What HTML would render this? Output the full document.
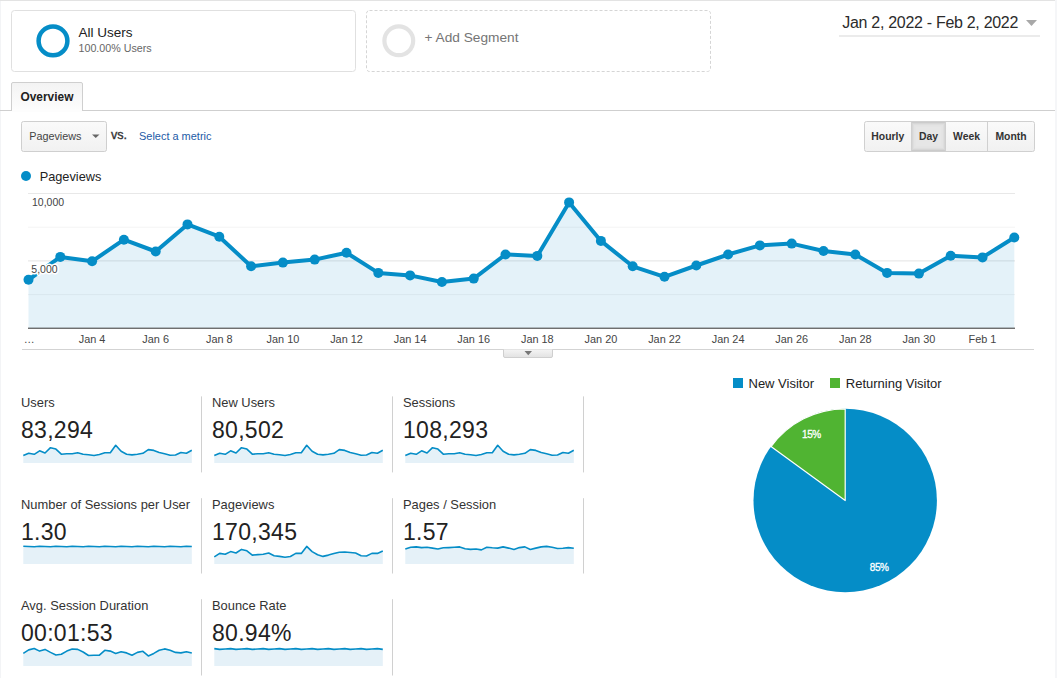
<!DOCTYPE html><html><head><meta charset="utf-8"><style>html,body{margin:0;padding:0;background:#fff;overflow:hidden}svg{display:block}text{font-family:"Liberation Sans", sans-serif}</style></head><body>
<svg width="1057" height="678" viewBox="0 0 1057 678">
<defs><linearGradient id="tabg" x1="0" y1="0" x2="0" y2="1"><stop offset="0" stop-color="#f3f3f3"/><stop offset="1" stop-color="#fdfdfd"/></linearGradient><linearGradient id="btng" x1="0" y1="0" x2="0" y2="1"><stop offset="0" stop-color="#fafafa"/><stop offset="1" stop-color="#f1f1f1"/></linearGradient><linearGradient id="handg" x1="0" y1="0" x2="0" y2="1"><stop offset="0" stop-color="#f4f4f4"/><stop offset="1" stop-color="#e2e2e2"/></linearGradient></defs>
<rect x="0" y="0" width="1057" height="678" fill="#fff"/>
<rect x="0" y="0" width="1055" height="1" fill="#e3e3e3"/>
<rect x="0" y="1" width="1" height="678" fill="#f3f4f6"/>
<rect x="1055" y="0" width="2" height="678" fill="#f5f6f8"/>
<rect x="11.5" y="10.5" width="344" height="61" rx="3" fill="#fff" stroke="#e0e0e0" stroke-width="1"/>
<circle cx="53" cy="40.9" r="14.4" fill="none" stroke="#058dc7" stroke-width="4.5"/>
<text x="78.5" y="37" font-size="13.5" fill="#222">All Users</text>
<text x="78.5" y="52" font-size="10.7" fill="#666">100.00% Users</text>
<rect x="366.5" y="10.5" width="344" height="61" rx="3" fill="#fff" stroke="#d5d5d5" stroke-width="1" stroke-dasharray="3 2"/>
<circle cx="398.8" cy="40.8" r="14.4" fill="none" stroke="#e3e3e3" stroke-width="4.2"/>
<text x="424.5" y="41.7" font-size="13.7" fill="#757575">+ Add Segment</text>
<text x="842.3" y="27.6" font-size="16" letter-spacing="-0.3" fill="#2b2b2b">Jan 2, 2022 - Feb 2, 2022</text>
<path d="M1026 20 L1037 20 L1031.5 26 Z" fill="#a8a8a8"/>
<rect x="839" y="35" width="201" height="2" fill="#ebebeb"/>
<rect x="0" y="110" width="1055" height="1" fill="#cfcfcf"/>
<path d="M11.5 111 L11.5 84 Q11.5 82.5 13 82.5 L81 82.5 Q82.5 82.5 82.5 84 L82.5 111" fill="url(#tabg)" stroke="#cfcfcf" stroke-width="1"/>
<rect x="12" y="109" width="70" height="3" fill="#fdfdfd"/>
<text x="20.5" y="100.5" font-size="11.9" font-weight="bold" fill="#222">Overview</text>
<rect x="21.5" y="121.5" width="85" height="30" rx="2" fill="url(#btng)" stroke="#cfcfcf"/>
<text x="29.2" y="140" font-size="10.8" fill="#444">Pageviews</text>
<path d="M92 134.5 L99.5 134.5 L95.75 138 Z" fill="#666"/>
<text x="111" y="139" font-size="12.6" fill="#333" stroke="#333" stroke-width="0.35">vs.</text>
<text x="139" y="140" font-size="10.96" fill="#1d5aa6">Select a metric</text>
<rect x="864.5" y="121.5" width="170" height="30" rx="2" fill="url(#btng)" stroke="#d0d0d0"/>
<rect x="911" y="122" width="35" height="29" fill="#cbcbcb"/>
<rect x="912" y="123" width="33" height="27" fill="#d6d6d6"/>
<rect x="913" y="124" width="31" height="25" fill="#dedede"/>
<rect x="914" y="125" width="29" height="23" fill="#e3e3e3"/>
<rect x="915.5" y="126.5" width="26" height="20" fill="#e6e6e6"/>
<rect x="911.0" y="122" width="1" height="29" fill="#d0d0d0"/>
<rect x="945.0" y="122" width="1" height="29" fill="#d0d0d0"/>
<rect x="987.0" y="122" width="1" height="29" fill="#d0d0d0"/>
<text x="887.8" y="140" font-size="10.4" font-weight="bold" fill="#333" text-anchor="middle">Hourly</text>
<text x="928.5" y="140" font-size="10.4" font-weight="bold" fill="#333" text-anchor="middle">Day</text>
<text x="966.5" y="140" font-size="10.4" font-weight="bold" fill="#333" text-anchor="middle">Week</text>
<text x="1011" y="140" font-size="10.4" font-weight="bold" fill="#333" text-anchor="middle">Month</text>
<circle cx="26" cy="176" r="5" fill="#058dc7"/>
<text x="39.7" y="181" font-size="12.76" fill="#222">Pageviews</text>
<rect x="28" y="193.0" width="987" height="1" fill="#e8e8e8"/>
<rect x="28" y="226.7" width="987" height="1" fill="#f4f4f4"/>
<rect x="28" y="260.4" width="987" height="1" fill="#e3e3e3"/>
<rect x="28" y="294.1" width="987" height="1" fill="#f3f3f3"/>
<polygon points="28.5,328 28.5,279.8 60.3,256.9 92.1,261.3 123.9,239.7 155.7,251.5 187.5,224.4 219.3,236.7 251.1,266.3 282.9,262.6 314.7,259.6 346.5,252.7 378.3,272.9 410.1,275.4 441.9,282.0 473.7,278.6 505.5,254.5 537.3,255.9 569.1,202.4 600.9,240.9 632.7,266.3 664.5,276.8 696.3,265.5 728.1,254.5 759.9,245.4 791.7,243.6 823.5,251.0 855.3,254.5 887.1,272.9 918.9,273.6 950.7,255.7 982.5,257.4 1014.3,237.5 1014.3,328" fill="#058dc7" fill-opacity="0.11"/>
<polyline points="28.5,279.8 60.3,256.9 92.1,261.3 123.9,239.7 155.7,251.5 187.5,224.4 219.3,236.7 251.1,266.3 282.9,262.6 314.7,259.6 346.5,252.7 378.3,272.9 410.1,275.4 441.9,282.0 473.7,278.6 505.5,254.5 537.3,255.9 569.1,202.4 600.9,240.9 632.7,266.3 664.5,276.8 696.3,265.5 728.1,254.5 759.9,245.4 791.7,243.6 823.5,251.0 855.3,254.5 887.1,272.9 918.9,273.6 950.7,255.7 982.5,257.4 1014.3,237.5" fill="none" stroke="#058dc7" stroke-width="4" stroke-linejoin="round"/>
<circle cx="28.5" cy="279.8" r="5" fill="#058dc7"/>
<circle cx="60.3" cy="256.9" r="5" fill="#058dc7"/>
<circle cx="92.1" cy="261.3" r="5" fill="#058dc7"/>
<circle cx="123.9" cy="239.7" r="5" fill="#058dc7"/>
<circle cx="155.7" cy="251.5" r="5" fill="#058dc7"/>
<circle cx="187.5" cy="224.4" r="5" fill="#058dc7"/>
<circle cx="219.3" cy="236.7" r="5" fill="#058dc7"/>
<circle cx="251.1" cy="266.3" r="5" fill="#058dc7"/>
<circle cx="282.9" cy="262.6" r="5" fill="#058dc7"/>
<circle cx="314.7" cy="259.6" r="5" fill="#058dc7"/>
<circle cx="346.5" cy="252.7" r="5" fill="#058dc7"/>
<circle cx="378.3" cy="272.9" r="5" fill="#058dc7"/>
<circle cx="410.1" cy="275.4" r="5" fill="#058dc7"/>
<circle cx="441.9" cy="282.0" r="5" fill="#058dc7"/>
<circle cx="473.7" cy="278.6" r="5" fill="#058dc7"/>
<circle cx="505.5" cy="254.5" r="5" fill="#058dc7"/>
<circle cx="537.3" cy="255.9" r="5" fill="#058dc7"/>
<circle cx="569.1" cy="202.4" r="5" fill="#058dc7"/>
<circle cx="600.9" cy="240.9" r="5" fill="#058dc7"/>
<circle cx="632.7" cy="266.3" r="5" fill="#058dc7"/>
<circle cx="664.5" cy="276.8" r="5" fill="#058dc7"/>
<circle cx="696.3" cy="265.5" r="5" fill="#058dc7"/>
<circle cx="728.1" cy="254.5" r="5" fill="#058dc7"/>
<circle cx="759.9" cy="245.4" r="5" fill="#058dc7"/>
<circle cx="791.7" cy="243.6" r="5" fill="#058dc7"/>
<circle cx="823.5" cy="251.0" r="5" fill="#058dc7"/>
<circle cx="855.3" cy="254.5" r="5" fill="#058dc7"/>
<circle cx="887.1" cy="272.9" r="5" fill="#058dc7"/>
<circle cx="918.9" cy="273.6" r="5" fill="#058dc7"/>
<circle cx="950.7" cy="255.7" r="5" fill="#058dc7"/>
<circle cx="982.5" cy="257.4" r="5" fill="#058dc7"/>
<circle cx="1014.3" cy="237.5" r="5" fill="#058dc7"/>
<rect x="28" y="327.7" width="987" height="1" fill="#333"/>
<text x="32" y="206" font-size="10.5" fill="#444">10,000</text>
<text x="31.3" y="272.7" font-size="10.5" fill="#444" stroke="#fff" stroke-width="3" stroke-linejoin="round" paint-order="stroke">5,000</text>
<text x="23.7" y="343" font-size="10.9" fill="#444">…</text>
<text x="92.1" y="342.8" font-size="10.9" fill="#444" text-anchor="middle">Jan 4</text>
<text x="155.7" y="342.8" font-size="10.9" fill="#444" text-anchor="middle">Jan 6</text>
<text x="219.3" y="342.8" font-size="10.9" fill="#444" text-anchor="middle">Jan 8</text>
<text x="282.9" y="342.8" font-size="10.9" fill="#444" text-anchor="middle">Jan 10</text>
<text x="346.5" y="342.8" font-size="10.9" fill="#444" text-anchor="middle">Jan 12</text>
<text x="410.1" y="342.8" font-size="10.9" fill="#444" text-anchor="middle">Jan 14</text>
<text x="473.7" y="342.8" font-size="10.9" fill="#444" text-anchor="middle">Jan 16</text>
<text x="537.3" y="342.8" font-size="10.9" fill="#444" text-anchor="middle">Jan 18</text>
<text x="600.9" y="342.8" font-size="10.9" fill="#444" text-anchor="middle">Jan 20</text>
<text x="664.5" y="342.8" font-size="10.9" fill="#444" text-anchor="middle">Jan 22</text>
<text x="728.1" y="342.8" font-size="10.9" fill="#444" text-anchor="middle">Jan 24</text>
<text x="791.7" y="342.8" font-size="10.9" fill="#444" text-anchor="middle">Jan 26</text>
<text x="855.3" y="342.8" font-size="10.9" fill="#444" text-anchor="middle">Jan 28</text>
<text x="918.9" y="342.8" font-size="10.9" fill="#444" text-anchor="middle">Jan 30</text>
<text x="982.5" y="342.8" font-size="10.9" fill="#444" text-anchor="middle">Feb 1</text>
<rect x="22" y="349" width="1012" height="1" fill="#d3d3d3"/>
<path d="M503.5 349.5 L503.5 356 Q503.5 357.5 505 357.5 L551 357.5 Q552.5 357.5 552.5 356 L552.5 349.5" fill="url(#handg)" stroke="#cfcfcf"/>
<path d="M524.5 351 L532 351 L528.25 355.3 Z" fill="#777"/>
<text x="21.0" y="406.8" font-size="12.9" fill="#333">Users</text>
<text x="21.0" y="437.6" font-size="23" letter-spacing="0.3" fill="#222">83,294</text>
<polygon points="23.3,463.0 23.3,455.5 28.7,453.3 34.2,454.3 39.6,450.8 45.0,453.0 50.5,447.7 55.9,449.1 61.3,454.2 66.8,453.7 72.2,453.7 77.7,452.8 83.1,454.3 88.5,454.7 94.0,455.5 99.4,454.5 104.8,452.8 110.3,452.8 115.7,445.3 121.1,451.3 126.6,454.2 132.0,454.9 137.4,454.3 142.9,453.3 148.3,449.6 153.8,450.4 159.2,452.5 164.6,453.7 170.1,455.2 175.5,455.0 180.9,452.5 186.4,453.2 191.8,450.3 191.8,463.0" fill="#e5f1f8"/>
<polyline points="23.3,455.5 28.7,453.3 34.2,454.3 39.6,450.8 45.0,453.0 50.5,447.7 55.9,449.1 61.3,454.2 66.8,453.7 72.2,453.7 77.7,452.8 83.1,454.3 88.5,454.7 94.0,455.5 99.4,454.5 104.8,452.8 110.3,452.8 115.7,445.3 121.1,451.3 126.6,454.2 132.0,454.9 137.4,454.3 142.9,453.3 148.3,449.6 153.8,450.4 159.2,452.5 164.6,453.7 170.1,455.2 175.5,455.0 180.9,452.5 186.4,453.2 191.8,450.3" fill="none" stroke="#058dc7" stroke-width="1.6" stroke-linejoin="round"/>
<text x="212.0" y="406.8" font-size="12.9" fill="#333">New Users</text>
<text x="212.0" y="437.6" font-size="23" letter-spacing="0.3" fill="#222">80,502</text>
<polygon points="214.3,463.0 214.3,455.5 219.7,453.3 225.2,454.3 230.6,450.8 236.0,453.0 241.5,447.7 246.9,449.1 252.3,454.2 257.8,453.7 263.2,453.7 268.7,452.8 274.1,454.3 279.5,454.7 285.0,455.5 290.4,454.5 295.8,452.8 301.3,452.8 306.7,445.3 312.1,451.3 317.6,454.2 323.0,454.9 328.4,454.3 333.9,453.3 339.3,449.6 344.8,450.4 350.2,452.5 355.6,453.7 361.1,455.2 366.5,455.0 371.9,452.5 377.4,453.2 382.8,450.3 382.8,463.0" fill="#e5f1f8"/>
<polyline points="214.3,455.5 219.7,453.3 225.2,454.3 230.6,450.8 236.0,453.0 241.5,447.7 246.9,449.1 252.3,454.2 257.8,453.7 263.2,453.7 268.7,452.8 274.1,454.3 279.5,454.7 285.0,455.5 290.4,454.5 295.8,452.8 301.3,452.8 306.7,445.3 312.1,451.3 317.6,454.2 323.0,454.9 328.4,454.3 333.9,453.3 339.3,449.6 344.8,450.4 350.2,452.5 355.6,453.7 361.1,455.2 366.5,455.0 371.9,452.5 377.4,453.2 382.8,450.3" fill="none" stroke="#058dc7" stroke-width="1.6" stroke-linejoin="round"/>
<text x="403.0" y="406.8" font-size="12.9" fill="#333">Sessions</text>
<text x="403.0" y="437.6" font-size="23" letter-spacing="0.3" fill="#222">108,293</text>
<polygon points="405.3,463.0 405.3,455.5 410.7,453.3 416.2,454.3 421.6,450.8 427.0,453.0 432.5,447.7 437.9,449.1 443.3,454.2 448.8,453.7 454.2,453.7 459.7,452.8 465.1,454.3 470.5,454.7 476.0,455.5 481.4,454.5 486.8,452.8 492.3,452.8 497.7,445.3 503.1,451.3 508.6,454.2 514.0,454.9 519.4,454.3 524.9,453.3 530.3,449.6 535.8,450.4 541.2,452.5 546.6,453.7 552.1,455.2 557.5,455.0 562.9,452.5 568.4,453.2 573.8,450.3 573.8,463.0" fill="#e5f1f8"/>
<polyline points="405.3,455.5 410.7,453.3 416.2,454.3 421.6,450.8 427.0,453.0 432.5,447.7 437.9,449.1 443.3,454.2 448.8,453.7 454.2,453.7 459.7,452.8 465.1,454.3 470.5,454.7 476.0,455.5 481.4,454.5 486.8,452.8 492.3,452.8 497.7,445.3 503.1,451.3 508.6,454.2 514.0,454.9 519.4,454.3 524.9,453.3 530.3,449.6 535.8,450.4 541.2,452.5 546.6,453.7 552.1,455.2 557.5,455.0 562.9,452.5 568.4,453.2 573.8,450.3" fill="none" stroke="#058dc7" stroke-width="1.6" stroke-linejoin="round"/>
<text x="21.0" y="509" font-size="12.9" fill="#333">Number of Sessions per User</text>
<text x="21.0" y="539.8" font-size="23" letter-spacing="0.3" fill="#222">1.30</text>
<polygon points="23.3,563.9 23.3,546.2 28.7,546.5 34.2,546.8 39.6,546.2 45.0,546.5 50.5,546.8 55.9,546.2 61.3,546.5 66.8,546.8 72.2,546.2 77.7,546.5 83.1,546.8 88.5,546.2 94.0,546.5 99.4,546.8 104.8,546.2 110.3,546.5 115.7,546.8 121.1,546.2 126.6,546.5 132.0,546.8 137.4,546.2 142.9,546.5 148.3,546.8 153.8,546.2 159.2,546.5 164.6,546.8 170.1,546.2 175.5,546.5 180.9,546.8 186.4,546.2 191.8,546.5 191.8,563.9" fill="#e5f1f8"/>
<polyline points="23.3,546.2 28.7,546.5 34.2,546.8 39.6,546.2 45.0,546.5 50.5,546.8 55.9,546.2 61.3,546.5 66.8,546.8 72.2,546.2 77.7,546.5 83.1,546.8 88.5,546.2 94.0,546.5 99.4,546.8 104.8,546.2 110.3,546.5 115.7,546.8 121.1,546.2 126.6,546.5 132.0,546.8 137.4,546.2 142.9,546.5 148.3,546.8 153.8,546.2 159.2,546.5 164.6,546.8 170.1,546.2 175.5,546.5 180.9,546.8 186.4,546.2 191.8,546.5" fill="none" stroke="#058dc7" stroke-width="1.6" stroke-linejoin="round"/>
<text x="212.0" y="509" font-size="12.9" fill="#333">Pageviews</text>
<text x="212.0" y="539.8" font-size="23" letter-spacing="0.3" fill="#222">170,345</text>
<polygon points="214.3,563.9 214.3,556.9 219.7,553.4 225.2,554.3 230.6,551.6 236.0,553.0 241.5,549.4 246.9,550.8 252.3,555.1 257.8,554.6 263.2,554.3 268.7,553.0 274.1,555.7 279.5,556.4 285.0,557.2 290.4,556.5 295.8,553.4 301.3,553.4 306.7,546.4 312.1,551.6 317.6,554.8 323.0,556.4 328.4,555.1 333.9,553.6 339.3,552.2 344.8,552.0 350.2,552.5 355.6,553.0 361.1,555.7 366.5,556.0 371.9,553.4 377.4,553.4 382.8,551.1 382.8,563.9" fill="#e5f1f8"/>
<polyline points="214.3,556.9 219.7,553.4 225.2,554.3 230.6,551.6 236.0,553.0 241.5,549.4 246.9,550.8 252.3,555.1 257.8,554.6 263.2,554.3 268.7,553.0 274.1,555.7 279.5,556.4 285.0,557.2 290.4,556.5 295.8,553.4 301.3,553.4 306.7,546.4 312.1,551.6 317.6,554.8 323.0,556.4 328.4,555.1 333.9,553.6 339.3,552.2 344.8,552.0 350.2,552.5 355.6,553.0 361.1,555.7 366.5,556.0 371.9,553.4 377.4,553.4 382.8,551.1" fill="none" stroke="#058dc7" stroke-width="1.6" stroke-linejoin="round"/>
<text x="403.0" y="509" font-size="12.9" fill="#333">Pages / Session</text>
<text x="403.0" y="539.8" font-size="23" letter-spacing="0.3" fill="#222">1.57</text>
<polygon points="405.3,563.9 405.3,549.0 410.7,547.3 416.2,546.9 421.6,547.6 427.0,547.3 432.5,548.1 437.9,549.0 443.3,547.8 448.8,547.6 454.2,547.3 459.7,546.9 465.1,548.7 470.5,549.4 476.0,549.0 481.4,549.9 486.8,547.3 492.3,547.8 497.7,548.1 503.1,546.9 508.6,548.1 514.0,549.5 519.4,547.6 524.9,546.9 530.3,549.5 535.8,548.1 541.2,546.9 546.6,546.4 552.1,547.3 557.5,548.5 562.9,548.3 568.4,547.6 573.8,548.3 573.8,563.9" fill="#e5f1f8"/>
<polyline points="405.3,549.0 410.7,547.3 416.2,546.9 421.6,547.6 427.0,547.3 432.5,548.1 437.9,549.0 443.3,547.8 448.8,547.6 454.2,547.3 459.7,546.9 465.1,548.7 470.5,549.4 476.0,549.0 481.4,549.9 486.8,547.3 492.3,547.8 497.7,548.1 503.1,546.9 508.6,548.1 514.0,549.5 519.4,547.6 524.9,546.9 530.3,549.5 535.8,548.1 541.2,546.9 546.6,546.4 552.1,547.3 557.5,548.5 562.9,548.3 568.4,547.6 573.8,548.3" fill="none" stroke="#058dc7" stroke-width="1.6" stroke-linejoin="round"/>
<text x="21.0" y="610" font-size="12.9" fill="#333">Avg. Session Duration</text>
<text x="21.0" y="640.8" font-size="23" letter-spacing="0.3" fill="#222">00:01:53</text>
<polygon points="23.3,666.1 23.3,653.4 28.7,649.9 34.2,648.5 39.6,651.1 45.0,649.4 50.5,652.4 55.9,655.0 61.3,654.3 66.8,651.1 72.2,649.0 77.7,649.4 83.1,652.0 88.5,655.5 94.0,655.2 99.4,655.2 104.8,650.3 110.3,651.1 115.7,653.4 121.1,651.7 126.6,652.9 132.0,655.2 137.4,652.4 142.9,651.3 148.3,655.9 153.8,653.4 159.2,650.3 164.6,648.9 170.1,650.3 175.5,652.4 180.9,652.9 186.4,651.7 191.8,653.1 191.8,666.1" fill="#e5f1f8"/>
<polyline points="23.3,653.4 28.7,649.9 34.2,648.5 39.6,651.1 45.0,649.4 50.5,652.4 55.9,655.0 61.3,654.3 66.8,651.1 72.2,649.0 77.7,649.4 83.1,652.0 88.5,655.5 94.0,655.2 99.4,655.2 104.8,650.3 110.3,651.1 115.7,653.4 121.1,651.7 126.6,652.9 132.0,655.2 137.4,652.4 142.9,651.3 148.3,655.9 153.8,653.4 159.2,650.3 164.6,648.9 170.1,650.3 175.5,652.4 180.9,652.9 186.4,651.7 191.8,653.1" fill="none" stroke="#058dc7" stroke-width="1.6" stroke-linejoin="round"/>
<text x="212.0" y="610" font-size="12.9" fill="#333">Bounce Rate</text>
<text x="212.0" y="640.8" font-size="23" letter-spacing="0.3" fill="#222">80.94%</text>
<polygon points="214.3,666.1 214.3,648.6 219.7,649.4 225.2,649.0 230.6,648.6 236.0,649.4 241.5,649.0 246.9,648.6 252.3,649.4 257.8,649.0 263.2,648.6 268.7,649.4 274.1,649.0 279.5,648.6 285.0,649.4 290.4,649.0 295.8,648.6 301.3,649.4 306.7,649.0 312.1,648.6 317.6,649.4 323.0,649.0 328.4,648.6 333.9,649.4 339.3,649.0 344.8,648.6 350.2,649.4 355.6,649.0 361.1,648.6 366.5,649.4 371.9,649.0 377.4,648.6 382.8,649.4 382.8,666.1" fill="#e5f1f8"/>
<polyline points="214.3,648.6 219.7,649.4 225.2,649.0 230.6,648.6 236.0,649.4 241.5,649.0 246.9,648.6 252.3,649.4 257.8,649.0 263.2,648.6 268.7,649.4 274.1,649.0 279.5,648.6 285.0,649.4 290.4,649.0 295.8,648.6 301.3,649.4 306.7,649.0 312.1,648.6 317.6,649.4 323.0,649.0 328.4,648.6 333.9,649.4 339.3,649.0 344.8,648.6 350.2,649.4 355.6,649.0 361.1,648.6 366.5,649.4 371.9,649.0 377.4,648.6 382.8,649.4" fill="none" stroke="#058dc7" stroke-width="1.6" stroke-linejoin="round"/>
<rect x="201.0" y="396.4" width="1" height="76.0" fill="#d0d0d0"/>
<rect x="392.0" y="396.4" width="1" height="76.0" fill="#d0d0d0"/>
<rect x="583.0" y="396.4" width="1" height="76.0" fill="#d0d0d0"/>
<rect x="201.0" y="498.2" width="1" height="75.3" fill="#d0d0d0"/>
<rect x="392.0" y="498.2" width="1" height="75.3" fill="#d0d0d0"/>
<rect x="583.0" y="498.2" width="1" height="75.3" fill="#d0d0d0"/>
<rect x="201.0" y="599.2" width="1" height="76.3" fill="#d0d0d0"/>
<rect x="392.0" y="599.2" width="1" height="76.3" fill="#d0d0d0"/>
<circle cx="845.2" cy="500.5" r="91.7" fill="#058dc7"/>
<path d="M845.2 500.5 L845.2 408.8 A91.7 91.7 0 0 0 771.01 446.60 Z" fill="#50b432" stroke="#fff" stroke-width="1.2" stroke-linejoin="round"/>
<text x="811.4" y="438.3" font-size="10" letter-spacing="-0.4" fill="#fff" stroke="#fff" stroke-width="0.3" text-anchor="middle">15%</text>
<text x="879.2" y="571.1" font-size="10" letter-spacing="-0.4" fill="#fff" stroke="#fff" stroke-width="0.3" text-anchor="middle">85%</text>
<rect x="733" y="378" width="10" height="10" fill="#058dc7"/>
<text x="748.5" y="387.8" font-size="13" fill="#222">New Visitor</text>
<rect x="830" y="378" width="10" height="10" fill="#50b432"/>
<text x="845.8" y="387.8" font-size="13" fill="#222">Returning Visitor</text>
</svg></body></html>
